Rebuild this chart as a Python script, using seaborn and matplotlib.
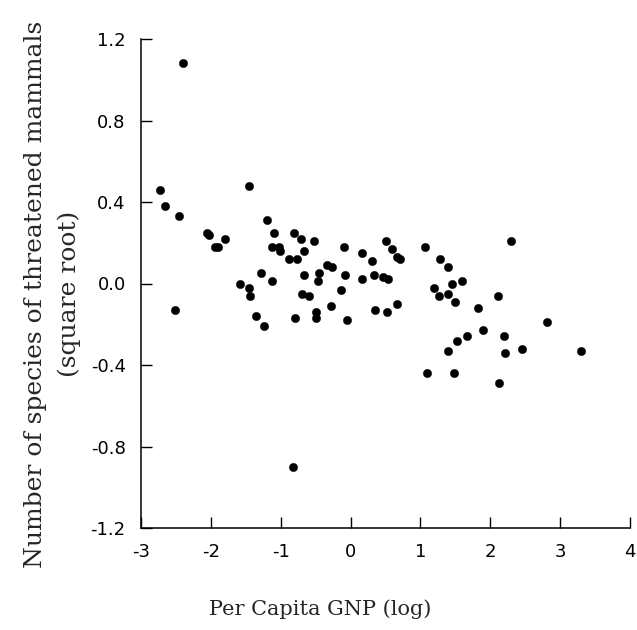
import pandas as pd
import numpy as np
import matplotlib.pyplot as plt
import seaborn as sns

# per capita GNP (log) and threatened mammals (square root)
gnp = [-2.40, -2.73, -2.65, -2.45, -2.51, -2.06, -2.03, -1.94, -1.90, -1.80,
       -1.45, -1.58, -1.45, -1.44, -1.35, -1.24, -1.28, -1.20, -1.10, -1.13,
       -1.02, -1.01, -1.13, -0.88, -0.77, -0.81, -0.71, -0.67, -0.67, -0.70,
       -0.59, -0.52, -0.45, -0.47, -0.50, -0.49, -0.79, -0.82, -0.34, -0.26,
       -0.28, -0.10, -0.08, -0.13, -0.05, 0.17, 0.16, 0.30, 0.34, 0.35,
       0.46, 0.54, 0.51, 0.60, 0.67, 0.71, 0.67, 0.52, 1.07, 1.28,
       1.39, 1.20, 1.26, 1.45, 1.60, 1.40, 1.50, 2.30, 2.11, 1.82,
       2.81, 1.89, 1.67, 1.52, 2.20, 2.46, 2.21, 1.40, 3.30, 1.10,
       1.48, 2.12]
mammals = [1.08, 0.46, 0.38, 0.33, -0.13, 0.25, 0.24, 0.18, 0.18, 0.22,
           0.48, 0.00, -0.02, -0.06, -0.16, -0.21, 0.05, 0.31, 0.25, 0.18,
           0.18, 0.16, 0.01, 0.12, 0.12, 0.25, 0.22, 0.16, 0.04, -0.05,
           -0.06, 0.21, 0.05, 0.01, -0.14, -0.17, -0.17, -0.90, 0.09, 0.08,
           -0.11, 0.18, 0.04, -0.03, -0.18, 0.15, 0.02, 0.11, 0.04, -0.13,
           0.03, 0.02, 0.21, 0.17, 0.13, 0.12, -0.10, -0.14, 0.18, 0.12,
           0.08, -0.02, -0.06, 0.00, 0.01, -0.05, -0.09, 0.21, -0.06, -0.12,
           -0.19, -0.23, -0.26, -0.28, -0.26, -0.32, -0.34, -0.33, -0.33, -0.44,
           -0.44, -0.49]
xticks = [-3, -2, -1, 0, 1, 2, 3, 4]
yticks = [-1.2, -0.8, -0.4, 0.0, 0.4, 0.8, 1.2]

df = pd.DataFrame({'gnp': gnp, 'mammals': mammals})

sns.set_style('ticks')
plt.rcParams['font.family'] = ['DejaVu Sans']

fig = plt.figure(figsize=(6.37, 6.30), dpi=100)
ax = fig.add_axes([141/637, 1 - 528/630, 489/637, 489/630])

sns.scatterplot(data=df, x='gnp', y='mammals', ax=ax, color='black',
                s=36, edgecolor='black', linewidth=0.3)

ax.set_xlim(-3, 4)
ax.set_ylim(-1.2, 1.2)
ax.set_xticks(xticks)
ax.set_yticks(yticks)
ax.set_xticklabels([str(t) for t in xticks])
ax.set_yticklabels([f'{t:.1f}' for t in yticks])
ax.tick_params(direction='in', length=8, width=1, labelsize=13, pad=11, colors='black')

sns.despine(ax=ax)
for sp in ['left', 'bottom']:
    ax.spines[sp].set_linewidth(1.1)
    ax.spines[sp].set_color('black')

ax.set_xlabel('Per Capita GNP (log)', family='DejaVu Serif', fontsize=15)
ax.xaxis.set_label_coords(0.366, -0.145)
ax.set_ylabel('Number of species of threatened mammals\n(square root)',
              family='DejaVu Serif', fontsize=18, linespacing=1.55)
ax.yaxis.set_label_coords(-0.123, 0.478)

fig.savefig('out.png', dpi=100)
